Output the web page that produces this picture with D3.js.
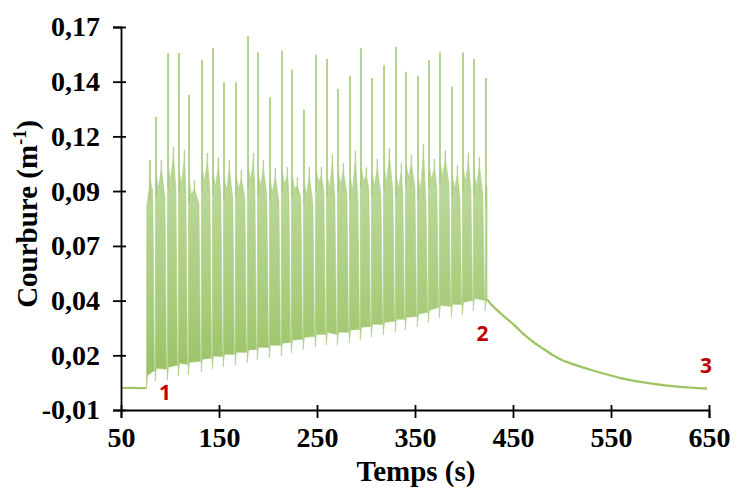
<!DOCTYPE html>
<html><head><meta charset="utf-8">
<script src="https://cdn.jsdelivr.net/npm/d3@7"></script>
<style>html,body{margin:0;padding:0;background:#fff;}</style>
</head><body>
<svg id="chart" width="736" height="494"></svg>
<script>
// ---------- data ----------
const xTicks = [50, 150, 250, 350, 450, 550, 650];
const yTicks = [-0.01, 0.0157, 0.0414, 0.0671, 0.0929, 0.1186, 0.1443, 0.17];
const yTickLabels = ["-0,01", "0,02", "0,04", "0,07", "0,09", "0,12", "0,14", "0,17"];

// baseline before loading
const baseTimes  = [50, 56, 62, 68, 74, 76];
const baseValues = [0.0004, 0.0003, 0.0004, 0.0002, 0.0003, 0.0003];

// oscillation cycles (main spike time, trough, spike top, secondary spike, dense band top)
const spikeTimes = [79.6, 85.7, 98.0, 109.2, 119.4, 132.7, 143.9, 155.1, 167.3, 179.6, 189.8,
  202.0, 214.3, 224.5, 236.7, 249.0, 260.2, 271.4, 283.7, 294.9, 306.1, 318.4, 330.6, 340.8,
  353.1, 364.3, 375.5, 387.8, 399.0, 410.2, 422.4];
const troughValues = [0.0003, 0.0036, 0.0041, 0.0060, 0.0064, 0.0079, 0.0093, 0.0102, 0.0111,
  0.0121, 0.0135, 0.0144, 0.0154, 0.0168, 0.0182, 0.0196, 0.0205, 0.0205, 0.0215, 0.0229,
  0.0243, 0.0252, 0.0267, 0.0276, 0.0290, 0.0309, 0.0332, 0.0337, 0.0346, 0.0365, 0.0365];
const spikeValues = [0.1075, 0.1277, 0.1578, 0.1578, 0.138, 0.1545, 0.160, 0.144, 0.144, 0.1658,
  0.158, 0.137, 0.159, 0.150, 0.131, 0.157, 0.155, 0.141, 0.147, 0.160, 0.146, 0.152, 0.1606,
  0.149, 0.147, 0.1545, 0.158, 0.142, 0.158, 0.155, 0.146];
const midValues = [null, 0.1075, 0.1136, 0.1122, 0.098, 0.1108, 0.1089, 0.1075, 0.1028, 0.1108,
  0.1075, 0.1037, 0.1042, 0.0995, 0.1042, 0.1042, 0.110, 0.106, 0.112, 0.104, 0.108, 0.113,
  0.106, 0.110, 0.115, 0.108, 0.112, 0.105, 0.111, 0.109, null];
const bandValues = [0.098, 0.100, 0.104, 0.102, 0.097, 0.103, 0.101, 0.099, 0.100, 0.104, 0.101,
  0.098, 0.102, 0.100, 0.097, 0.103, 0.100, 0.102, 0.099, 0.104, 0.101, 0.103, 0.100, 0.105,
  0.099, 0.104, 0.106, 0.100, 0.103, 0.101, 0.095];

// relaxation after unloading
const decayTimes  = [423.5, 428, 435, 442, 450, 460, 470, 480, 490, 500, 515, 530, 545, 560, 575, 590, 605, 620, 635, 648];
const decayValues = [0.042, 0.0395, 0.0365, 0.0335, 0.0305, 0.026, 0.0222, 0.019, 0.016, 0.0135, 0.011, 0.0088,
  0.0068, 0.005, 0.0036, 0.0025, 0.0016, 0.0009, 0.0004, 0.0001];

const markLabels = ["1", "2", "3"];
const markTimes  = [95, 419, 647];
const markValues = [-0.0055, 0.0222, 0.0076];

// ---------- drawing ----------
const svg = d3.select("#chart");
const x = d3.scaleLinear().domain([50, 650]).range([121, 709]);
const y = d3.scaleLinear().domain([-0.01, 0.17]).range([410, 27]);
const line = d3.line().x(d => x(d[0])).y(d => y(d[1]));

const defs = svg.append("defs");
const grad = defs.append("linearGradient").attr("id", "band")
  .attr("gradientUnits", "userSpaceOnUse")
  .attr("x1", 0).attr("x2", 0).attr("y1", y(0)).attr("y2", y(0.1));
grad.append("stop").attr("offset", 0).attr("stop-color", "#97bf62");
grad.append("stop").attr("offset", 0.35).attr("stop-color", "#a7cb78");
grad.append("stop").attr("offset", 1).attr("stop-color", "#bcd99c");

const g = svg.append("g");
const green = "#9dc462";

// baseline
g.append("path").attr("d", line(baseTimes.map((t, i) => [t, baseValues[i]])))
  .attr("fill", "none").attr("stroke", green).attr("stroke-width", 2);

// cycles
const n = spikeTimes.length;
for (let i = 0; i < n; i++) {
  const t0 = i === 0 ? baseTimes[baseTimes.length - 1] : spikeTimes[i] - 0.8;
  const T = spikeTimes[i];
  const L0 = troughValues[i];
  const B = bandValues[i];
  const M = midValues[i] === null ? B : midValues[i];
  let pts;
  if (i < n - 1) {
    const t1 = spikeTimes[i + 1] - 0.8, L1 = troughValues[i + 1];
    pts = [[t0, L0], [t0 + 0.3, B - 0.012], [T + 0.4, B], [T + 2.5, B - 0.006], [Math.min(T + 5.5, t1 - 3), M - 0.004],
           [t1 - 2.4, B - 0.01], [t1 - 0.9, L1 + 0.010], [t1 - 0.6, L1 + 0.005], [t0 + 1.2, L0 + 0.006]];
  } else {
    const t1 = decayTimes[0], L1 = decayValues[0];
    pts = [[t0, L0], [t0 + 0.3, B], [t1, B], [t1, L1], [t0 + 0.8, L0 + 0.004]];
  }
  g.append("path").attr("d", line(pts) + "Z").attr("fill", "url(#band)").attr("stroke", "#a9cc7c").attr("stroke-width", 0.6);
  // main spike
  g.append("path").attr("d", line([[T, B - 0.01], [T, spikeValues[i]]]))
    .attr("fill", "none").attr("stroke", "#a9cc7e").attr("stroke-width", 1.7);
  // secondary spike
  if (midValues[i] !== null) {
    g.append("path").attr("d", line([[T + 5.5, B - 0.01], [T + 5.5, midValues[i]]]))
      .attr("fill", "none").attr("stroke", "#b3d38c").attr("stroke-width", 1.4);
  }
}

// decay
g.append("path").attr("d", line.curve(d3.curveMonotoneX)(decayTimes.map((t, i) => [t, decayValues[i]])))
  .attr("fill", "none").attr("stroke", green).attr("stroke-width", 2.3);

// axes
const font = "'Liberation Serif', 'Times New Roman', serif";
const yAxis = d3.axisLeft(y).tickValues(yTicks).tickFormat((d, i) => yTickLabels[i]).tickSize(8).tickPadding(13);
const ya = svg.append("g").attr("transform", `translate(${x(50)},0)`).call(yAxis);
ya.selectAll(".tick line").attr("x1", 5);
const xAxis = d3.axisBottom(x).tickValues(xTicks).tickFormat(d => String(d)).tickSize(8).tickPadding(9);
const xa = svg.append("g").attr("transform", `translate(0,${y(-0.01)})`).call(xAxis);
xa.selectAll(".tick line").attr("y1", -5);
[ya, xa].forEach(a => {
  a.select(".domain").attr("stroke", "#000").attr("stroke-width", 1.8);
  a.selectAll(".tick line").attr("stroke", "#000").attr("stroke-width", 1.8);
  a.selectAll("text").attr("font-family", font).attr("font-weight", "bold").attr("font-size", 28).attr("fill", "#000");
});

// titles
svg.append("text").attr("x", 416).attr("y", 481).attr("text-anchor", "middle")
  .attr("font-family", font).attr("font-weight", "bold").attr("font-size", 29).text("Temps (s)");
const yt = svg.append("text").attr("transform", "translate(37,214) rotate(-90)").attr("text-anchor", "middle")
  .attr("font-family", font).attr("font-weight", "bold").attr("font-size", 29);
yt.append("tspan").text("Courbure (m");
yt.append("tspan").attr("dy", -11).attr("font-size", 18).text("-1");
yt.append("tspan").attr("dy", 11).text(")");

// markers
markLabels.forEach((m, i) => {
  svg.append("text").attr("x", x(markTimes[i])).attr("y", y(markValues[i])).attr("text-anchor", "middle")
    .attr("font-family", "'Open Sans', 'Liberation Sans', sans-serif").attr("font-weight", "bold")
    .attr("font-size", 21).attr("fill", "#c00000").text(m);
});
</script>
</body></html>
